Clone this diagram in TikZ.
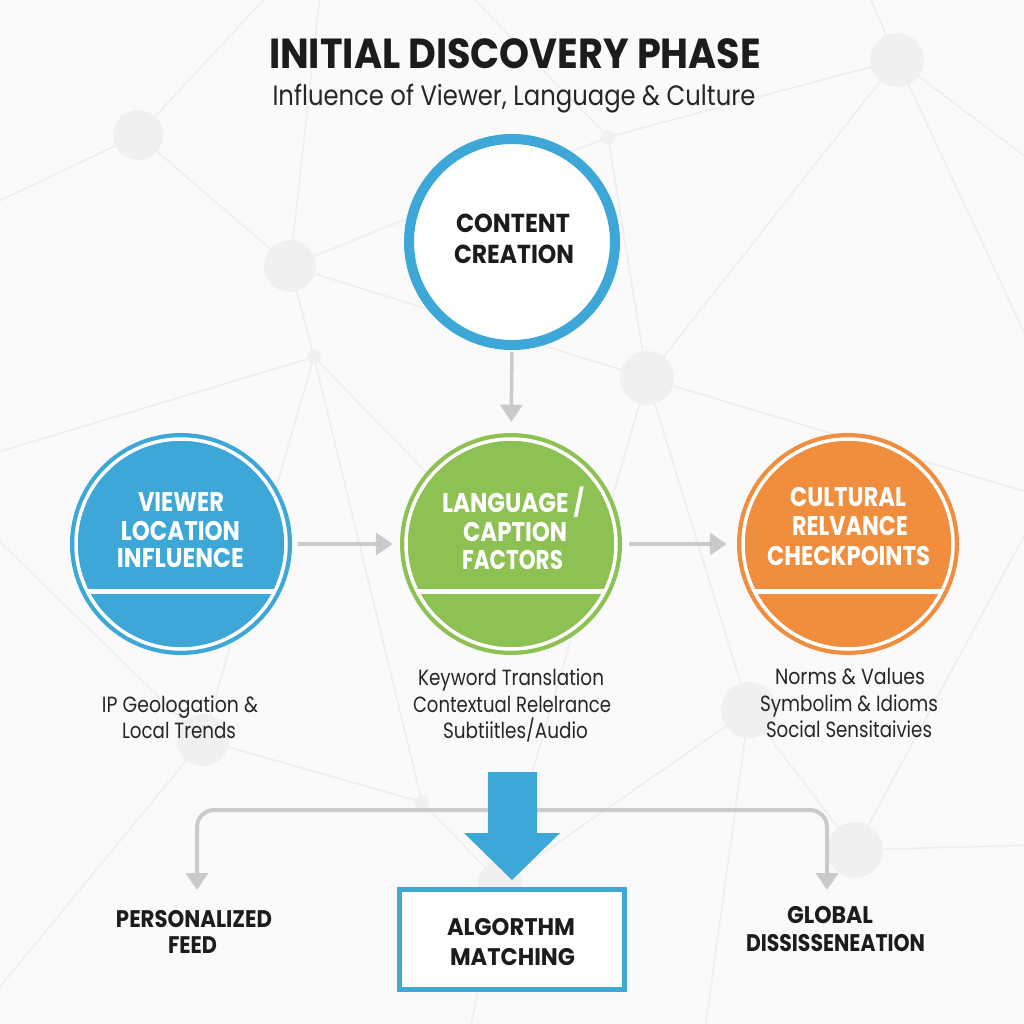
\documentclass[tikz,border=0pt]{standalone}
\usepackage{fontspec}
\setmainfont{Poppins}
\usepackage{graphicx}
\usetikzlibrary{arrows.meta,calc}
\definecolor{cblue}{HTML}{3DA8D8}
\definecolor{cgreen}{HTML}{8DC153}
\definecolor{corange}{HTML}{F08E3E}
\definecolor{agrey}{HTML}{CACACA}
\definecolor{netline}{HTML}{EEEEEE}
\definecolor{netdot}{HTML}{F0F0F0}
\definecolor{bgc}{HTML}{FAFAFA}
\definecolor{ink}{HTML}{1C1C1C}
\definecolor{descc}{HTML}{262626}
\newcommand\fw[2]{\resizebox{#1pt}{\height}{#2}}
\begin{document}
\begin{tikzpicture}[x=1pt,y=-1pt,
  txt/.style={inner sep=0pt, outer sep=0pt, anchor=base, text=ink},
  ttl/.style={txt, font=\bfseries\fontsize{42}{42}\selectfont},
  sub/.style={txt, text=descc, font=\fontsize{28}{28}\selectfont},
  hd/.style={txt, font=\bfseries\fontsize{26}{26}\selectfont},
  wh/.style={txt, text=white, font=\bfseries\fontsize{27}{27}\selectfont},
  desc/.style={txt, text=descc, font=\fontsize{22}{22}\selectfont},
  bot/.style={txt, font=\bfseries\fontsize{24}{24}\selectfont},
  disc/.style={circle, inner sep=0pt, minimum size=222pt},
  garr/.style={draw=agrey, line width=4pt, -{Triangle[width=22pt,length=17pt]}},
  net/.style={draw=netline, line width=1.6pt},
  ndot/.style={fill=netdot}]
\useasboundingbox (0,0) rectangle (1024,1024);
\fill[bgc] (0,0) rectangle (1024,1024);

% background network
\coordinate (n1) at (138,135);
\coordinate (n2) at (290,266);
\coordinate (n3) at (608,137);
\coordinate (n4) at (897,60);
\coordinate (n5) at (647,378);
\coordinate (n6) at (314,357);
\coordinate (n7) at (203,740);
\coordinate (n8) at (422,802);
\coordinate (n9) at (500,883);
\coordinate (n10) at (749,710);
\coordinate (n11) at (855,850);
\path[net] (n1) -- (268,-5) (n1) -- (-5,203) (n1) -- (n2) (n2) -- (320,-5)
  (n2) -- (n3) (n3) -- (470,-5) (n3) -- (n4) (n3) -- (n5) (n4) -- (869,-5)
  (n4) -- (1030,160) (n4) -- (1030,345) (n4) -- (n5) (n2) -- (n5) (n2) -- (n6)
  (n6) -- (-5,453) (n6) -- (n7) (n6) -- (n8) (n6) -- (560,610)
  (n7) -- (-5,537) (n7) -- (-5,993) (n7) -- (n8) (n8) -- (n9)
  (n5) -- (n9) (n5) -- (n10) (n5) -- (1030,493) (n9) -- (n10) (n9) -- (470,1030)
  (n10) -- (n11) (n10) -- (705,1030) (n11) -- (1030,845) (n11) -- (1030,525);
\path[ndot] (n1) circle (25) (n2) circle (26) (n3) circle (7) (n4) circle (27)
  (n5) circle (27) (n6) circle (7) (n7) circle (26) (n8) circle (7)
  (n9) circle (22) (n10) circle (28) (n11) circle (28);

% title
\node[ttl] (title) at (515,69) {\fw{492}{INITIAL DISCOVERY PHASE}};
\node[sub] (subtitle) at (514,106) {\fw{483}{Influence of Viewer, Language \& Culture}};

% content creation
\node[circle, draw=cblue, line width=10pt, fill=white, inner sep=0pt, minimum size=206pt] (content) at (512,242) {};
\node[hd] (c1) at (513,233) {\fw{114}{CONTENT}};
\node[hd] (c2) at (514,263) {\fw{120}{CREATION}};

% three circles
\node[disc, fill=cblue] (viewer) at (181,544) {};
\node[disc, fill=cgreen] (lang) at (511,544) {};
\node[disc, fill=corange] (cult) at (848,544) {};
\foreach \n in {viewer,lang,cult}{
  \draw[white, line width=3.5pt] (\n.center) circle (105);
  \draw[white, line width=5pt] ($(\n.center)+(-94,47)$) -- ($(\n.center)+(94,47)$);
}
\node[wh] (v1) at (181,511) {\fw{86}{VIEWER}};
\node[wh] (v2) at (180.5,540) {\fw{119}{LOCATION}};
\node[wh] (v3) at (180.5,567.5) {\fw{127}{INFLUENCE}};
\node[wh] (l1) at (513,512) {\fw{142}{LANGUAGE /}};
\node[wh] (l2) at (515,541) {\fw{104}{CAPTION}};
\node[wh] (l3) at (512.5,569) {\fw{101}{FACTORS}};
\node[wh] (k1) at (848,506) {\fw{116}{CULTURAL}};
\node[wh] (k2) at (850,535) {\fw{116}{RELVANCE}};
\node[wh] (k3) at (848.5,565) {\fw{163}{CHECKPOINTS}};

% connectors
\draw[garr, line width=3.5pt, shorten <=2pt, shorten >=11pt] (content.south) -- (lang.north);
\draw[garr, shorten <=6pt, shorten >=7pt] (viewer.east) -- (lang.west);
\draw[garr, shorten <=7pt, shorten >=10pt] (lang.east) -- (cult.west);

% descriptions
\node[desc] (d1) at (180,712) {\fw{156}{IP Geologation \&}};
\node[desc] (d2) at (179,738) {\fw{114}{Local Trends}};
\node[desc] (d3) at (511,685) {\fw{186}{Keyword Translation}};
\node[desc] (d4) at (512,712) {\fw{198}{Contextual Relelrance}};
\node[desc] (d5) at (515.5,738) {\fw{145}{Subtiitles/Audio}};
\node[desc] (d6) at (850,684) {\fw{150}{Norms \& Values}};
\node[desc] (d7) at (849,711) {\fw{178}{Symbolim \& Idioms}};
\node[desc] (d8) at (849,737) {\fw{166}{Social Sensitaivies}};

% branch
\coordinate (hub) at (512,810);
\coordinate (pfeedtip) at (197,890);
\coordinate (gdistip) at (827,890);
\draw[garr, rounded corners=17pt] (hub) -| (pfeedtip);
\draw[garr, rounded corners=17pt] (hub) -| (gdistip);

% big blue arrow
\fill[cblue] (488,772) -- (537,772) -- (537,833) -- (560,833) -- (512,880)
  -- (464,833) -- (488,833) -- cycle;

% algorithm box
\node[draw=cblue, line width=5pt, fill=white, inner sep=0pt, minimum width=225pt, minimum height=100pt] (algo) at (512,939.5) {};
\node[bot] (a1) at (511,935) {\fw{128}{ALGORTHM}};
\node[bot] (a2) at (512.5,965) {\fw{125}{MATCHING}};

% outputs
\node[bot] (p1) at (194,927) {\fw{156}{PERSONALIZED}};
\node[bot] (p2) at (192.5,953) {\fw{49}{FEED}};
\node[bot] (g1) at (830,923) {\fw{86}{GLOBAL}};
\node[bot] (g2) at (835.5,951) {\fw{179}{DISSISSENEATION}};
\end{tikzpicture}
\end{document}
